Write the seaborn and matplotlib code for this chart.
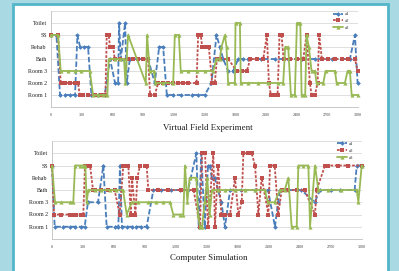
import matplotlib
matplotlib.use("Agg")
import matplotlib.pyplot as plt
from matplotlib.patches import Rectangle
import pandas as pd
import seaborn as sns

# ---------------- data ----------------
categories = ["Room 1", "Room 2", "Room 3", "Bath", "Rehab", "SS", "Toilet"]  # codes 1..7
x_ticks = [0, 300, 600, 900, 1200, 1500, 1800, 2100, 2400, 2700, 3000]
series_names = ["a1", "a2", "a3"]

# Virtual Field Experiment
vfe_a1_t = [0, 53, 88, 134, 183, 235, 258, 284, 323, 362, 395, 460, 525, 577, 626, 656, 665, 682,
            724, 740, 770, 851, 949, 1014, 1057, 1096, 1132, 1194, 1275, 1373, 1438, 1503, 1568,
            1617, 1650, 1683, 1731, 1780, 1829, 1881, 1927, 2057, 2188, 2318, 2449, 2579, 2742,
            2921, 2970, 2996]
vfe_a1_loc = [6, 6, 1, 1, 1, 1, 6, 5, 5, 5, 1, 1, 1, 4, 2, 2, 7, 4,
              7, 2, 4, 4, 4, 2, 5, 5, 1, 1, 1, 1, 1, 1, 2,
              6, 5, 4, 3, 3, 4, 4, 4, 4, 4, 4, 4, 4, 4,
              4, 6, 2]
vfe_a2_t = [0, 69, 95, 134, 183, 232, 264, 281, 313, 362, 427, 493, 532, 545, 564, 577, 607, 623,
            672, 753, 802, 851, 900, 949, 969, 1014, 1047, 1096, 1145, 1194, 1242, 1291, 1334,
            1422, 1438, 1464, 1477, 1510, 1542, 1575, 1601, 1621, 1653, 1731, 1816, 1862, 1914,
            1947, 2009, 2074, 2110, 2129, 2149, 2188, 2214, 2233, 2253, 2273, 2335, 2400, 2465,
            2497, 2530, 2546, 2579, 2605, 2621, 2647, 2709, 2775, 2840, 2905, 2970, 2996]
vfe_a2_loc = [6, 6, 2, 2, 2, 2, 2, 1, 1, 1, 1, 1, 1, 6, 6, 5, 5, 4,
              4, 4, 4, 4, 4, 4, 1, 1, 2, 2, 2, 2, 2, 2, 2,
              2, 6, 6, 5, 5, 5, 2, 2, 4, 4, 4, 3, 3, 3,
              4, 4, 4, 6, 2, 1, 1, 1, 6, 6, 4, 4, 4, 4,
              6, 2, 1, 1, 2, 6, 4, 4, 4, 4, 4, 4, 3]
vfe_a3_t = [0, 69, 95, 167, 232, 297, 379, 411, 460, 509, 551, 564, 623, 672, 714, 727, 753, 926,
            939, 965, 1008, 1021, 1096, 1194, 1210, 1249, 1268, 1340, 1422, 1503, 1585, 1617,
            1650, 1666, 1699, 1715, 1731, 1797, 1803, 1846, 1855, 1927, 2025, 2123, 2220, 2269,
            2289, 2318, 2344, 2383, 2403, 2436, 2449, 2484, 2497, 2520, 2546, 2579, 2595, 2661,
            2683, 2775, 2791, 2872, 2898, 2921, 2938, 3000]
vfe_a3_loc = [6, 6, 3, 3, 3, 3, 3, 1, 1, 1, 1, 4, 4, 4, 4, 2, 6, 2,
              6, 3, 3, 2, 2, 2, 6, 6, 3, 3, 3, 3, 3, 4,
              4, 5, 6, 5, 2, 2, 7, 7, 2, 2, 2, 2, 2, 2,
              5, 5, 1, 1, 7, 7, 1, 1, 6, 5, 3, 3, 2, 2,
              3, 3, 2, 2, 3, 3, 1, 1]

# Computer Simulation
cs_a1_t = [0, 26, 106, 171, 219, 284, 316, 348, 445, 497, 529, 606, 642, 658, 677, 723, 771, 816,
           865, 916, 981, 1058, 1155, 1239, 1316, 1397, 1420, 1445, 1477, 1510, 1529, 1545, 1574,
           1607, 1639, 1674, 1723, 1832, 1962, 2090, 2158, 2187, 2207, 2284, 2413, 2542, 2594,
           2703, 2787, 2929, 2949, 2997]
cs_a1_loc = [6, 1, 1, 1, 1, 1, 1, 3, 3, 6, 1, 1, 1, 6, 1, 1, 1, 1,
             1, 1, 4, 4, 4, 4, 4, 7, 1, 7, 1, 6, 6, 5, 5,
             4, 3, 1, 4, 4, 4, 4, 1, 3, 4, 4, 4, 3, 4,
             4, 4, 4, 6, 6]
cs_a2_t = [0, 19, 90, 171, 203, 236, 284, 303, 319, 348, 368, 397, 416, 477, 542, 606, 655, 690,
           719, 739, 761, 774, 807, 826, 852, 897, 916, 932, 1026, 1123, 1252, 1371, 1432, 1452,
           1481, 1510, 1561, 1577, 1607, 1639, 1674, 1723, 1771, 1803, 1836, 1852, 1897, 1932,
           1965, 1997, 2029, 2094, 2110, 2155, 2190, 2223, 2284, 2368, 2445, 2545, 2561, 2642,
           2674, 2768, 2865, 2997]
cs_a2_loc = [6, 2, 2, 2, 2, 2, 2, 2, 6, 6, 6, 4, 4, 4, 4, 4, 2, 6,
             6, 6, 2, 5, 2, 5, 6, 6, 6, 4, 4, 4, 4, 4, 1, 7,
             7, 1, 7, 1, 6, 2, 2, 2, 5, 2, 3, 7, 7, 7,
             6, 2, 5, 2, 6, 6, 2, 4, 4, 4, 4, 2, 4, 6,
             6, 6, 6, 6]
cs_a3_t = [0, 29, 90, 171, 206, 223, 268, 303, 323, 335, 352, 413, 477, 558, 623, 687, 723, 771,
           832, 929, 1010, 1074, 1142, 1174, 1236, 1271, 1287, 1310, 1332, 1397, 1413, 1432, 1452,
           1477, 1503, 1526, 1548, 1607, 1671, 1768, 1865, 1962, 2058, 2090, 2155, 2207, 2252,
           2287, 2319, 2368, 2384, 2432, 2481, 2497, 2545, 2578, 2671, 2800, 2949, 2965, 2997]
cs_a3_loc = [6, 3, 3, 3, 3, 6, 6, 6, 6, 3, 4, 4, 4, 4, 4, 4, 2, 3,
             3, 3, 3, 3, 3, 2, 2, 2, 6, 3, 5, 5, 2, 1, 1,
             3, 5, 2, 4, 4, 4, 4, 4, 4, 4, 3, 3, 4, 4,
             5, 1, 1, 6, 6, 6, 1, 6, 4, 4, 4, 4, 3, 6]

panels = [
    ("Virtual Field Experiment",
     [(vfe_a1_t, vfe_a1_loc), (vfe_a2_t, vfe_a2_loc), (vfe_a3_t, vfe_a3_loc)]),
    ("Computer Simulation",
     [(cs_a1_t, cs_a1_loc), (cs_a2_t, cs_a2_loc), (cs_a3_t, cs_a3_loc)]),
]

# ---------------- style ----------------
sns.set_theme(style="white")
plt.rcParams["font.family"] = ["Liberation Serif", "DejaVu Serif"]

colors = ["#4a7ebb", "#c0504d", "#98b954"]
linestyles = [(0, (3.0, 1.3)), (0, (1.5, 0.9)), "-"]
markers = ["D", "s", "^"]
msizes = [2.4, 3.0, 3.0]

W, H = 399, 271
fig = plt.figure(figsize=(W / 100, H / 100), dpi=100)
fig.patch.set_facecolor("#a9dae3")

panel_rect = Rectangle((13 / W, -0.05), 375 / W, 1 - 4 / H + 0.05, transform=fig.transFigure,
                       facecolor="white", edgecolor="#52b5ca", linewidth=2.0, zorder=-10)
fig.patches.append(panel_rect)

axes_pos = [
    [51 / W, 1 - 107 / H, 307 / W, 96 / H],
    [52 / W, 1 - 239 / H, 310 / W, 98 / H],
]
title_pos = [(208 / W, 1 - 128 / H), (209 / W, 1 - 258 / H)]
legend_anchor = [(0.975, 1.0), (0.975, 1.005)]

for p, (title, series) in enumerate(panels):
    ax = fig.add_axes(axes_pos[p])
    ax.set_zorder(5)
    ax.set_facecolor("none")
    for i, (t, loc) in enumerate(series):
        df = pd.DataFrame({"t": t, "loc": loc})
        sns.lineplot(data=df, x="t", y="loc", sort=False, estimator=None, ax=ax,
                     color=colors[i], linestyle=linestyles[i], linewidth=1.3,
                     marker=markers[i], markersize=msizes[i], markeredgewidth=0,
                     label=series_names[i], clip_on=False, zorder=3 + i)
    ax.set_xlim(0, 3000)
    ax.set_ylim(0, 8)
    ax.set_xticks(x_ticks)
    ax.set_xticklabels([str(v) for v in x_ticks], fontsize=3.0, color="#404040")
    ax.set_yticks(range(1, 9))
    ax.set_yticklabels(categories + [""], fontsize=4.3, color="#202020")
    ax.set_xlabel("")
    ax.set_ylabel("")
    ax.grid(axis="y", color="#d9d9d9", linewidth=0.6)
    ax.grid(axis="x", visible=False)
    for s in ["top", "right"]:
        ax.spines[s].set_visible(False)
    for s in ["left", "bottom"]:
        ax.spines[s].set_color("#bfbfbf")
        ax.spines[s].set_linewidth(0.6)
    ax.tick_params(axis="y", length=0, pad=3)
    ax.tick_params(axis="x", length=1.5, width=0.4, color="#bfbfbf", pad=3)
    leg = ax.legend(loc="upper right", bbox_to_anchor=legend_anchor[p], frameon=False,
                    fontsize=3.4, handlelength=2.2, handletextpad=0.4, labelspacing=0.55,
                    borderaxespad=0.0, borderpad=0.2)
    fig.text(title_pos[p][0], title_pos[p][1], title, ha="center", va="center",
             fontsize=6.4, color="#202020")

fig.savefig("out.png", dpi=100, facecolor=fig.get_facecolor())
